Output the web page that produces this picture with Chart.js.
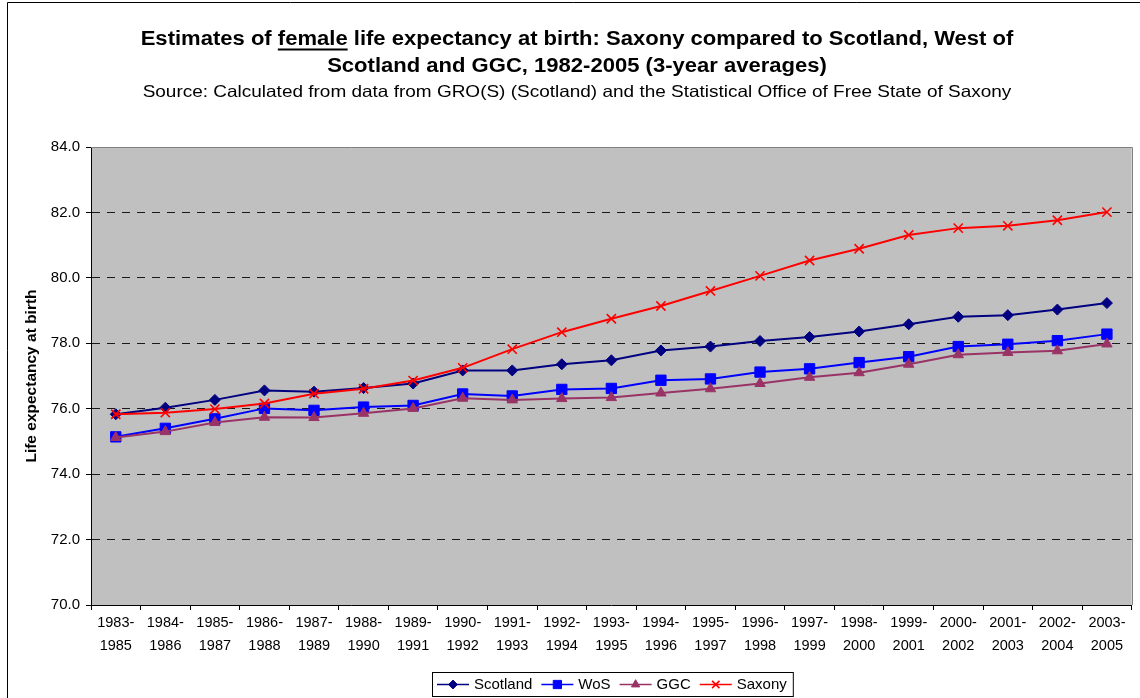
<!DOCTYPE html>
<html><head><meta charset="utf-8">
<script src="https://cdn.jsdelivr.net/npm/chart.js@4/dist/chart.umd.min.js"></script>
<style>html,body{margin:0;padding:0;background:#fff;}#wrap{width:1140px;height:698px;position:relative;}</style>
</head><body><div id="wrap"><canvas id="c" width="1140" height="698"></canvas></div>
<script>
const periods = [["1983-","1985"],["1984-","1986"],["1985-","1987"],["1986-","1988"],["1987-","1989"],["1988-","1990"],["1989-","1991"],["1990-","1992"],["1991-","1993"],["1992-","1994"],["1993-","1995"],["1994-","1996"],["1995-","1997"],["1996-","1998"],["1997-","1999"],["1998-","2000"],["1999-","2001"],["2000-","2002"],["2001-","2003"],["2002-","2004"],["2003-","2005"]];
const scotland = [75.83,76.03,76.27,76.56,76.52,76.63,76.77,77.17,77.17,77.36,77.48,77.78,77.90,78.07,78.19,78.36,78.58,78.81,78.86,79.03,79.23];
const wos      = [75.14,75.40,75.69,76.01,75.95,76.05,76.10,76.45,76.39,76.59,76.62,76.87,76.91,77.12,77.22,77.41,77.59,77.90,77.97,78.08,78.28];
const ggc      = [75.12,75.30,75.58,75.74,75.73,75.86,76.01,76.32,76.27,76.31,76.34,76.48,76.61,76.77,76.96,77.10,77.36,77.65,77.72,77.77,77.98];
const saxony   = [75.83,75.88,75.99,76.16,76.46,76.61,76.86,77.25,77.82,78.34,78.75,79.14,79.60,80.06,80.53,80.89,81.31,81.52,81.59,81.76,82.01];
const seriesNames = ["Scotland","WoS","GGC","Saxony"];
const yMin = 70, yMax = 84, yStep = 2;
const titleLine1a = "Estimates of ", titleUnder = "female", titleLine1b = " life expectancy at birth: Saxony compared to Scotland, West of";
const titleLine2 = "Scotland and GGC, 1982-2005 (3-year averages)";
const subtitle = "Source: Calculated from data from GRO(S) (Scotland) and the Statistical Office of Free State of Saxony";
const yTitle = "Life expectancy at birth";

const FONT = '"Liberation Sans", Arial, sans-serif';

const decor = {
  id: 'decor',
  beforeDraw(chart) {
    const {ctx, chartArea: a} = chart;
    ctx.save();
    ctx.fillStyle = '#fff';
    ctx.fillRect(0, 0, chart.width, chart.height);
    ctx.fillStyle = '#C0C0C0';
    ctx.fillRect(a.left, a.top, a.right - a.left, a.bottom - a.top);
    ctx.restore();
  },
  afterDraw(chart) {
    const {ctx, chartArea: a} = chart;
    ctx.save();
    // outer frame
    ctx.strokeStyle = '#000'; ctx.lineWidth = 1;
    ctx.beginPath(); ctx.moveTo(7.5, chart.height); ctx.lineTo(7.5, 2.5); ctx.lineTo(chart.width, 2.5); ctx.stroke();
    // plot top/right border
    ctx.strokeStyle = '#808080';
    ctx.beginPath(); ctx.moveTo(a.left, Math.round(a.top) + 0.5); ctx.lineTo(Math.round(a.right) + 0.5, Math.round(a.top) + 0.5); ctx.lineTo(Math.round(a.right) + 0.5, a.bottom); ctx.stroke();
    // titles (text stretched horizontally like the original)
    const cx = 577;
    const sxT = 1.13, sxS = 1.15;
    ctx.fillStyle = '#000'; ctx.textBaseline = 'middle';
    ctx.save();
    ctx.translate(cx, 0); ctx.scale(sxT, 1);
    ctx.font = 'bold 19.5px ' + FONT;
    const wA = ctx.measureText(titleLine1a).width, wU = ctx.measureText(titleUnder).width, wB = ctx.measureText(titleLine1b).width;
    let x0 = -(wA + wU + wB) / 2;
    ctx.textAlign = 'left';
    ctx.fillText(titleLine1a, x0, 40);
    ctx.fillText(titleUnder, x0 + wA, 40);
    ctx.fillText(titleLine1b, x0 + wA + wU, 40);
    ctx.fillRect(x0 + wA, 48.5, wU, 2);
    ctx.textAlign = 'center';
    ctx.fillText(titleLine2, 0, 67);
    ctx.restore();
    ctx.save();
    ctx.translate(cx, 0); ctx.scale(sxS, 1);
    ctx.textAlign = 'center';
    ctx.font = '16.5px ' + FONT;
    ctx.fillText(subtitle, 0, 92);
    ctx.restore();
    // y title
    ctx.save();
    ctx.translate(32, (a.top + a.bottom) / 2);
    ctx.rotate(-Math.PI / 2);
    ctx.textAlign = 'center';
    ctx.font = 'bold 15.5px ' + FONT;
    ctx.fillText(yTitle, 0, 0);
    ctx.restore();
    // legend
    const ds = chart.data.datasets;
    ctx.font = '15px ' + FONT;
    const lineLen = 32, gapLT = 5, gapItem = 9, padL = 5, padR = 6;
    let total = padL + padR;
    ds.forEach((d, k) => { total += lineLen + gapLT + ctx.measureText(d.label).width + (k < ds.length - 1 ? gapItem : 0); });
    const lx = Math.round(612 - total / 2), ly = 672, lh = 24;
    ctx.strokeStyle = '#000'; ctx.lineWidth = 1;
    ctx.strokeRect(lx + 0.5, ly + 0.5, total, lh);
    let x = lx + padL;
    const yc = ly + lh / 2 + 0.5;
    ctx.textAlign = 'left';
    ds.forEach((d) => {
      ctx.strokeStyle = d.borderColor; ctx.lineWidth = 1.5;
      ctx.beginPath(); ctx.moveTo(x, yc); ctx.lineTo(x + lineLen, yc); ctx.stroke();
      ctx.fillStyle = d.pointBackgroundColor; ctx.strokeStyle = d.pointBorderColor; ctx.lineWidth = d.pointBorderWidth;
      Chart.helpers.drawPoint(ctx, {pointStyle: d.pointStyle, radius: d.pointRadius * 0.8, borderWidth: d.pointBorderWidth, rotation: 0}, x + lineLen / 2, yc);
      ctx.fillStyle = '#000';
      ctx.fillText(d.label, x + lineLen + gapLT, yc);
      x += lineLen + gapLT + ctx.measureText(d.label).width + gapItem;
    });
    ctx.restore();
  }
};

function mk(label, data, color, style, radius, pbw, order) {
  return {label, data, borderColor: color, backgroundColor: color, pointBackgroundColor: color, pointBorderColor: color,
    pointStyle: style, pointRadius: radius, pointHoverRadius: radius, pointBorderWidth: pbw, borderWidth: 2, tension: 0, order};
}

new Chart(document.getElementById('c'), {
  type: 'line',
  data: {
    labels: periods,
    datasets: [
      mk(seriesNames[0], scotland, '#000080', 'rectRot', 5.5, 1, 4),
      mk(seriesNames[1], wos, '#0000FF', 'rect', 7.3, 1, 3),
      mk(seriesNames[2], ggc, '#993366', 'triangle', 6, 1, 2),
      mk(seriesNames[3], saxony, '#FF0000', 'crossRot', 6.5, 1.6, 1)
    ]
  },
  options: {
    responsive: false, animation: false, devicePixelRatio: 1,
    layout: {padding: {left: 0, top: 147, right: 6, bottom: 0}},
    plugins: {legend: {display: false}, title: {display: false}, tooltip: {enabled: false}},
    scales: {
      x: {
        type: 'category', offset: true,
        afterFit(s) { s.height = 93; },
        grid: {offset: true, drawOnChartArea: false, drawTicks: true, tickLength: 5, tickColor: '#000', tickBorderDash: []},
        border: {display: true, color: '#000', width: 1},
        ticks: {color: '#000', font: {family: FONT, size: 14.5, lineHeight: 23 / 14.5}, maxRotation: 0, minRotation: 0, autoSkip: false, padding: 1}
      },
      y: {
        min: yMin, max: yMax,
        afterFit(s) { s.width = 91; },
        grid: {color: (c) => (c.tick && (c.tick.value === yMin || c.tick.value === yMax)) ? 'rgba(0,0,0,0)' : '#1a1a1a',
               drawTicks: true, tickLength: 5, tickColor: '#000', tickBorderDash: []},
        border: {display: true, color: '#000', width: 1, dash: [8, 7]},
        ticks: {stepSize: yStep, color: '#000', padding: 6, font: {family: FONT, size: 15}, callback: (v) => v.toFixed(1)}
      }
    }
  },
  plugins: [decor]
});
</script></body></html>
